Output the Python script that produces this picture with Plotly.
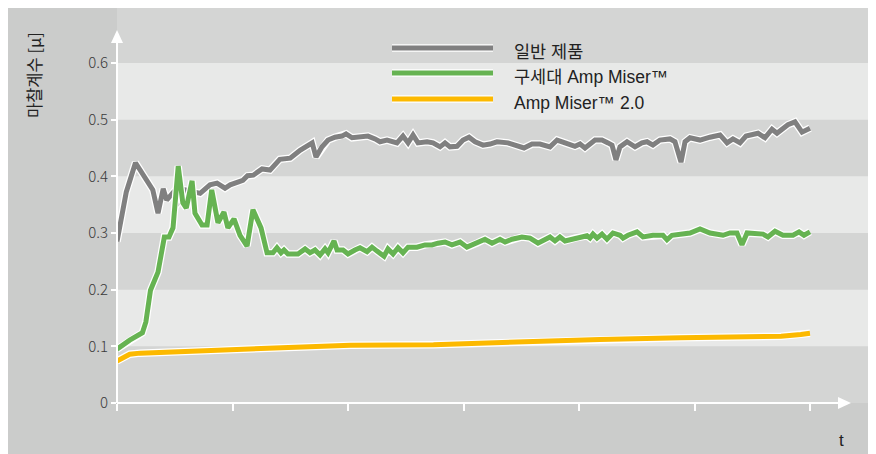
import plotly.graph_objects as go

# ---------------- data ----------------
gray_t = [0, 8, 16, 31, 35.5, 40, 43, 48, 53, 59, 72, 80.5, 86.6, 93.5, 98, 109, 113, 118, 125.6, 132.5,
          141, 150, 158.5, 169, 172.3, 177.5, 182.7, 188.7, 194.8, 198.3, 203.5, 208.7, 212, 217.3, 223.4,
          227.7, 233.8, 242.4, 247.6, 252, 256.3, 260.6, 268.4, 273.6, 279.7, 284, 288.3, 294.4, 299.6,
          304.8, 310, 316.9, 323, 329, 338.5, 346.3, 352.4, 359.3, 366.2, 374.9, 381, 387.9, 396.5, 400.9,
          405.2, 413.9, 419.9, 425.1, 428.6, 432, 435.5, 441.6, 448.5, 454.5, 458.9, 464, 470.1, 478.8,
          483.1, 488.3, 491.8, 496.1, 504.8, 513.4, 522.1, 528.2, 533.3, 539.4, 544.6, 555, 561, 567.1,
          571.4, 580.9, 587, 593.1, 597.4, 600]
gray_y = [0.285, 0.372, 0.424, 0.376, 0.335, 0.378, 0.358, 0.370, 0.355, 0.376, 0.370, 0.385, 0.388, 0.379,
          0.385, 0.393, 0.401, 0.402, 0.413, 0.411, 0.430, 0.432, 0.446, 0.459, 0.434, 0.452, 0.464, 0.469,
          0.471, 0.475, 0.468, 0.469, 0.468, 0.471, 0.466, 0.461, 0.464, 0.459, 0.471, 0.459, 0.473, 0.459,
          0.461, 0.459, 0.452, 0.459, 0.452, 0.453, 0.464, 0.469, 0.461, 0.455, 0.457, 0.461, 0.459, 0.455,
          0.450, 0.457, 0.457, 0.452, 0.464, 0.459, 0.453, 0.457, 0.450, 0.464, 0.464, 0.459, 0.455, 0.429,
          0.452, 0.461, 0.452, 0.459, 0.461, 0.455, 0.464, 0.466, 0.461, 0.425, 0.461, 0.468, 0.464, 0.469,
          0.473, 0.459, 0.466, 0.459, 0.471, 0.476, 0.468, 0.483, 0.476, 0.491, 0.496, 0.478, 0.482, 0.485]

green_t = [0, 11, 22, 25, 29, 35.5, 41, 45, 48.5, 53, 57, 60, 65, 67.5, 73.6, 78, 82, 87.4, 92.6, 96,
           101.3, 106.5, 112.6, 117.7, 124.7, 129.9, 135, 138.5, 142, 144.6, 148, 156.7, 162.8, 167.1,
           171.4, 175.8, 180.1, 182.7, 187.9, 190.5, 195.7, 200, 206, 210.4, 216.5, 220.8, 225.1, 231.2,
           234.6, 239, 243.3, 247.6, 252, 259.7, 266.7, 272.7, 277.9, 284, 290, 297, 303, 311.7, 318.6,
           324.7, 331.6, 336, 342, 350.6, 357.6, 364.5, 374.9, 379.2, 383.5, 387.9, 396.5, 406.9, 409.5,
           412.1, 415.6, 419.9, 424.2, 429.4, 435.5, 438.1, 442.4, 450.2, 455.4, 464, 472.7, 476.2, 480.5,
           496.1, 504.8, 513.4, 524.7, 530.7, 536.8, 541.1, 545.5, 559.3, 563.6, 569.7, 576.6, 585.3,
           590.5, 594.8, 600]
green_y = [0.095, 0.111, 0.124, 0.143, 0.199, 0.231, 0.293, 0.293, 0.309, 0.418, 0.353, 0.344, 0.392,
           0.335, 0.314, 0.314, 0.376, 0.318, 0.337, 0.309, 0.325, 0.296, 0.277, 0.341, 0.309, 0.265,
           0.265, 0.274, 0.265, 0.270, 0.263, 0.263, 0.272, 0.265, 0.270, 0.261, 0.272, 0.265, 0.286,
           0.270, 0.270, 0.263, 0.270, 0.274, 0.267, 0.275, 0.268, 0.259, 0.272, 0.263, 0.274, 0.265,
           0.275, 0.275, 0.279, 0.279, 0.282, 0.284, 0.279, 0.284, 0.275, 0.282, 0.289, 0.282, 0.289,
           0.284, 0.289, 0.293, 0.291, 0.282, 0.293, 0.286, 0.293, 0.286, 0.291, 0.295, 0.291, 0.298,
           0.291, 0.298, 0.289, 0.300, 0.296, 0.291, 0.296, 0.302, 0.293, 0.296, 0.296, 0.288, 0.296,
           0.300, 0.307, 0.300, 0.296, 0.300, 0.300, 0.279, 0.300, 0.298, 0.293, 0.303, 0.296, 0.296,
           0.302, 0.296, 0.302]

yellow_t = [0, 5, 11, 20, 46, 72, 115, 159, 202, 274, 332, 418, 488, 575, 592, 600]
yellow_y = [0.074, 0.080, 0.086, 0.088, 0.090, 0.091, 0.095, 0.098, 0.102, 0.103, 0.107, 0.112, 0.115,
            0.118, 0.121, 0.123]

series_names = ["일반 제품", "구세대 Amp Miser™", "Amp Miser™ 2.0"]
series_colors = ["#808080", "#66b352", "#fcb900"]

x_ticks = [0, 100, 200, 300, 400, 500, 600]
y_ticks = [0, 0.1, 0.2, 0.3, 0.4, 0.5, 0.6]
y_ticktext = ["0", "0.1", "0.2", "0.3", "0.4", "0.5", "0.6"]
light_bands = [(0.1, 0.2), (0.3, 0.4), (0.5, 0.6)]
y_title = "마찰계수 [μ]"
x_title = "t"

# ---------------- style ----------------
OFF = 8                      # page body margin
W, H = 864, 446
ML, MR, MT, MB = 109, 0, 0, 51
PW, PH = W - ML - MR, H - MT - MB
OUTER = "#cbcccb"
DARK = "#d4d5d4"
LIGHT = "#e8e9e8"
TEXT = "#222222"
LEG_FONT = "Liberation Sans, Noto Sans CJK KR, sans-serif"


def px_x(px):
    return (px - OFF - ML) / PW


def px_y(py):
    return (H - MB - (py - OFF)) / PH


fig = go.Figure()

all_series = [(gray_t, gray_y), (green_t, green_y), (yellow_t, yellow_y)]
for (tt, yy), name, col in zip(all_series, series_names, series_colors):
    fig.add_trace(go.Scatter(x=tt, y=yy, mode="lines", line=dict(color="white", width=7.5),
                             hoverinfo="skip", showlegend=False))
    fig.add_trace(go.Scatter(x=tt, y=yy, mode="lines", name=name, line=dict(color=col, width=5),
                             showlegend=False))

shapes = []
for lo, hi in light_bands:
    shapes.append(dict(type="rect", xref="paper", yref="y", x0=0, x1=1, y0=lo, y1=hi,
                       fillcolor=LIGHT, line_width=0, layer="below"))
# axis lines with arrows
shapes.append(dict(type="line", xref="paper", yref="paper", x0=0, x1=0, y0=0, y1=px_y(42),
                   line=dict(color="white", width=2)))
shapes.append(dict(type="path", xref="paper", yref="paper",
                   path=f"M {px_x(111)},{px_y(43)} L {px_x(117)},{px_y(30)} L {px_x(123)},{px_y(43)} Z",
                   fillcolor="white", line_width=0))
shapes.append(dict(type="line", xref="paper", yref="paper", x0=0, x1=px_x(839), y0=0, y1=0,
                   line=dict(color="white", width=2)))
shapes.append(dict(type="path", xref="paper", yref="paper",
                   path=f"M {px_x(838)},{px_y(397)} L {px_x(851)},{px_y(403)} L {px_x(838)},{px_y(409)} Z",
                   fillcolor="white", line_width=0))

# custom legend
annotations = []
leg_y = [48, 73, 99]
leg_ty = [52, 77, 103]
for name, col, ly, ty in zip(series_names, series_colors, leg_y, leg_ty):
    shapes.append(dict(type="line", xref="paper", yref="paper", x0=px_x(392), x1=px_x(493),
                       y0=px_y(ly), y1=px_y(ly), line=dict(color="white", width=7.5)))
    shapes.append(dict(type="line", xref="paper", yref="paper", x0=px_x(392), x1=px_x(493),
                       y0=px_y(ly), y1=px_y(ly), line=dict(color=col, width=5)))
    annotations.append(dict(text=name, xref="paper", yref="paper", x=px_x(512), y=px_y(ty),
                            xanchor="left", yanchor="middle", showarrow=False,
                            font=dict(family=LEG_FONT, size=17.5, color=TEXT)))

annotations.append(dict(text=y_title, xref="paper", yref="paper", x=px_x(34), y=px_y(75),
                        xanchor="center", yanchor="middle", textangle=-90, showarrow=False,
                        font=dict(family="Noto Sans CJK KR, Noto Sans", size=16.5, color=TEXT)))
annotations.append(dict(text=x_title, xref="paper", yref="paper", x=px_x(841), y=px_y(440),
                        xanchor="center", yanchor="middle", showarrow=False,
                        font=dict(family=LEG_FONT, size=17, color=TEXT)))

fig.update_layout(
    width=W, height=H,
    margin=dict(l=ML, r=MR, t=MT, b=MB, pad=0),
    paper_bgcolor=OUTER,
    plot_bgcolor=DARK,
    showlegend=False,
    hovermode=False,
    shapes=shapes,
    annotations=annotations,
    xaxis=dict(range=[0, (872 - 117) / 1.155], tickvals=x_ticks, showticklabels=False,
               ticks="outside", ticklen=7, tickwidth=1.5, tickcolor="white",
               showgrid=False, zeroline=False, showline=False, fixedrange=True),
    yaxis=dict(range=[0, (403 - OFF) / 566.7], tickvals=y_ticks, ticktext=y_ticktext,
               ticks="outside", ticklen=5, tickwidth=1.5, tickcolor="white",
               tickfont=dict(family="Noto Sans CJK KR, Noto Sans", size=15, color="#3a3a3a",
                             weight=300),
               showgrid=False, zeroline=False, showline=False, fixedrange=True),
)

fig.write_html("out.html", config={"displayModeBar": False})
